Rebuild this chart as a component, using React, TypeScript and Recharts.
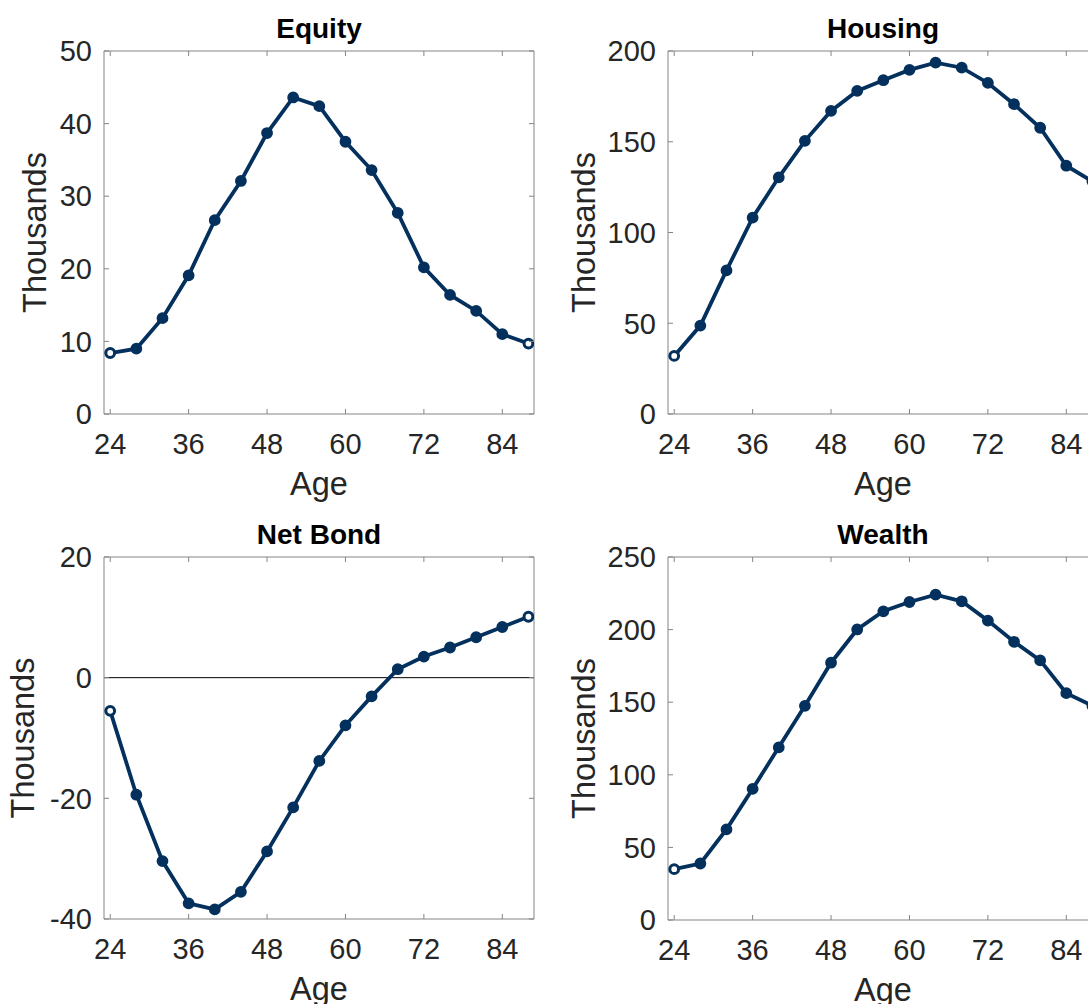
import { LineChart, Line, XAxis, YAxis, ReferenceLine } from "recharts";

const ages = [24, 28, 32, 36, 40, 44, 48, 52, 56, 60, 64, 68, 72, 76, 80, 84, 88];
const ageTicks = [24, 36, 48, 60, 72, 84];

const equity = [8.4, 9.0, 13.2, 19.1, 26.7, 32.1, 38.7, 43.6, 42.4, 37.5, 33.6, 27.7, 20.2, 16.4, 14.2, 11.0, 9.7];
const housing = [32.0, 48.7, 79.1, 108.2, 130.4, 150.5, 167.0, 178.0, 183.9, 189.6, 193.6, 190.8, 182.4, 170.7, 157.7, 136.8, 128.2];
const netBond = [-5.5, -19.4, -30.4, -37.4, -38.4, -35.5, -28.8, -21.5, -13.8, -7.9, -3.1, 1.4, 3.5, 5.0, 6.7, 8.4, 10.1];
const wealth = [35.0, 38.9, 62.4, 90.3, 118.9, 147.5, 177.2, 200.1, 212.6, 219.0, 224.1, 219.5, 206.2, 191.6, 178.8, 156.2, 147.5];

const equityTicks = [0, 10, 20, 30, 40, 50];
const housingTicks = [0, 50, 100, 150, 200];
const netBondTicks = [-40, -20, 0, 20];
const wealthTicks = [0, 50, 100, 150, 200, 250];

const NAVY = "#03305c";
const AXIS = "#858585";
const TEXT = "#262626";
const FONT = "'Liberation Sans', Arial, Helvetica, sans-serif";
const X_DOMAIN: [number, number] = [23.05, 88.85];

const W = 544;
const H = 502;
const PLOT_W = 430;
const TICK_LEN = 5;
const X_MARGIN = 19;
const Y_MARGIN = 12;
const TICK_FONT = 29;
const LABEL_FONT = 32.5;

type PanelProps = {
  title: string;
  values: number[];
  yDomain: [number, number];
  yTicks: number[];
  left: number;
  top: number;
  marginTop: number;
  bottomH: number;
  labelOffset: number;
  zeroLine?: boolean;
};

function Panel({ title, values, yDomain, yTicks, left, top, marginTop, bottomH, labelOffset, zeroLine }: PanelProps) {
  const data = ages.map((age, i) => ({ age, value: values[i] }));
  const plotH = H - marginTop - bottomH;

  // MATLAB-style inward ticks on both sides of the box
  const xTick = (p: any) => {
    const base = p.y - X_MARGIN;
    return (
      <g key={`x-${p.index}`}>
        <line x1={p.x} x2={p.x} y1={base} y2={base - TICK_LEN} stroke={AXIS} />
        <line x1={p.x} x2={p.x} y1={base - plotH} y2={base - plotH + TICK_LEN} stroke={AXIS} />
        <text x={p.x} y={p.y} dy="0.71em" textAnchor="middle" fontSize={TICK_FONT} fill={TEXT}>
          {p.payload.value}
        </text>
      </g>
    );
  };

  const yTick = (p: any) => {
    const base = p.x + Y_MARGIN;
    return (
      <g key={`y-${p.index}`}>
        <line x1={base} x2={base + TICK_LEN} y1={p.y} y2={p.y} stroke={AXIS} />
        <line x1={base + PLOT_W} x2={base + PLOT_W - TICK_LEN} y1={p.y} y2={p.y} stroke={AXIS} />
        <text x={p.x} y={p.y} dy="0.355em" textAnchor="end" fontSize={TICK_FONT} fill={TEXT}>
          {p.payload.value}
        </text>
      </g>
    );
  };

  const dot = (p: any) => {
    const end = p.index === 0 || p.index === ages.length - 1;
    return (
      <circle key={`d-${p.index}`} cx={p.cx} cy={p.cy} r={4.4} fill={end ? "#fff" : NAVY} stroke={NAVY} strokeWidth={3} />
    );
  };

  return (
    <div style={{ position: "absolute", left, top, fontFamily: FONT }}>
      <LineChart width={W} height={H} data={data} margin={{ top: marginTop, right: 10, bottom: 0, left: 0 }}>
        <XAxis
          dataKey="age"
          type="number"
          domain={X_DOMAIN}
          ticks={ageTicks}
          interval={0}
          allowDataOverflow
          height={bottomH}
          tickSize={0}
          tickMargin={X_MARGIN}
          stroke={AXIS}
          tick={xTick}
          label={{ value: "Age", position: "insideTop", offset: 58, fontSize: LABEL_FONT, fill: TEXT }}
        />
        <YAxis
          type="number"
          domain={yDomain}
          ticks={yTicks}
          interval={0}
          allowDataOverflow
          width={104}
          tickSize={0}
          tickMargin={Y_MARGIN}
          stroke={AXIS}
          tick={yTick}
          label={{
            value: "Thousands",
            angle: -90,
            position: "insideLeft",
            offset: labelOffset,
            fontSize: LABEL_FONT,
            fill: TEXT,
            style: { textAnchor: "middle" },
          }}
        />
        <ReferenceLine
          y={yDomain[1]}
          stroke={AXIS}
          label={{ value: title, position: "top", offset: 13.5, fontSize: 28, fontWeight: "bold", fill: "#000" }}
        />
        <ReferenceLine x={X_DOMAIN[1]} stroke={AXIS} />
        {zeroLine && <ReferenceLine y={0} stroke="#000" strokeWidth={1} />}
        <Line
          dataKey="value"
          stroke={NAVY}
          strokeWidth={3.8}
          dot={dot}
          activeDot={false}
          isAnimationActive={false}
        />
      </LineChart>
    </div>
  );
}

export default function App() {
  return (
    <div style={{ position: "fixed", left: 0, top: 0, width: 1088, height: 1004, overflow: "hidden", background: "#fff" }}>
      <Panel title="Equity" values={equity} yDomain={[0, 50]} yTicks={equityTicks} left={0} top={0} marginTop={51} bottomH={88} labelOffset={34} />
      <Panel title="Housing" values={housing} yDomain={[0, 200]} yTicks={housingTicks} left={564} top={0} marginTop={51} bottomH={88} labelOffset={19} />
      <Panel title="Net Bond" values={netBond} yDomain={[-40, 20]} yTicks={netBondTicks} left={0} top={502} marginTop={55} bottomH={85} labelOffset={22} zeroLine />
      <Panel title="Wealth" values={wealth} yDomain={[0, 250]} yTicks={wealthTicks} left={564} top={502} marginTop={55} bottomH={84} labelOffset={19} />
    </div>
  );
}
